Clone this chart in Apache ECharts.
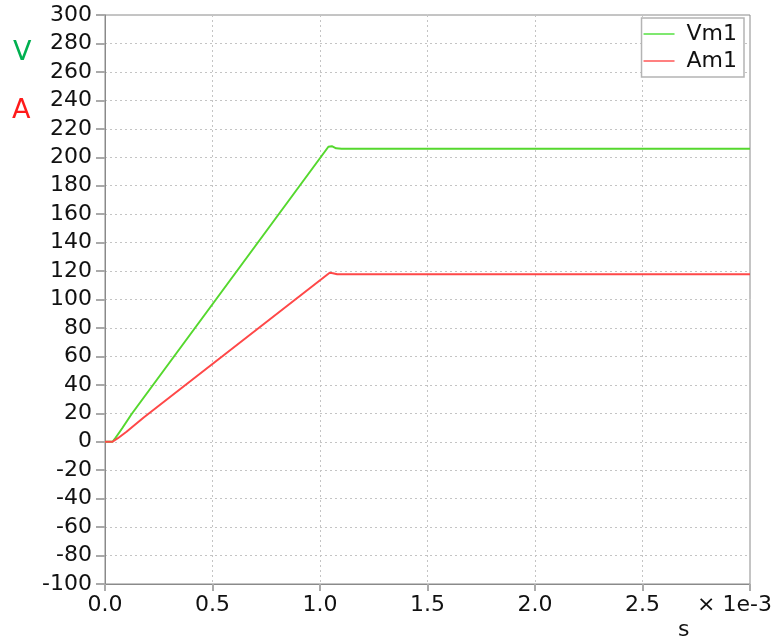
<!DOCTYPE html>
<html><head><meta charset="utf-8">
<script src="https://cdn.jsdelivr.net/npm/echarts@6/dist/echarts.min.js"></script>
<style>html,body{margin:0;padding:0;background:#fff}#c{width:782px;height:636px}</style>
</head><body><div id="c"></div>
<script>
// time in units of 1e-3 s
const vm1 = [[0,0],[0.035,0],[0.05,3],[0.08,9.5],[0.124,19.5],[1.039,207.4],[1.055,207.8],[1.075,206.3],[1.1,205.9],[1.5,206],[2.0,206],[2.5,206],[3.0,206]];
const am1 = [[0,0],[0.035,0],[0.06,2.5],[0.1,7],[0.18,17],[1.045,118.8],[1.06,118.5],[1.08,117.8],[1.5,117.8],[2.0,117.8],[2.5,117.8],[3.0,117.8]];
const xTicks = [0.0,0.5,1.0,1.5,2.0,2.5,3.0];
const yMin = -100, yMax = 300, yStep = 20;

const chart = echarts.init(document.getElementById('c'), null, {renderer:'canvas'});
const font = 'DejaVu Sans, Verdana, sans-serif';
chart.setOption({
  animation:false,
  grid:{left:105,right:32,top:15,bottom:52,show:true,borderColor:'#8a8a8a',borderWidth:1},
  legend:{
    right:38, top:18, orient:'vertical', itemGap:5,
    itemWidth:31, itemHeight:2,
    backgroundColor:'#fff', borderColor:'#b4b4b4', borderWidth:1.5, borderRadius:0,
    padding:[5,7,5,2],
    textStyle:{fontFamily:font,fontSize:22,color:'#111',padding:[0,0,0,7]},
    icon:'rect',
    data:['Vm1','Am1']
  },
  xAxis:{
    type:'value', min:0, max:3, interval:0.5,
    axisLine:{show:true,onZero:false,lineStyle:{color:'#8a8a8a',width:1}},
    axisTick:{show:true,length:7,lineStyle:{color:'#aaaaaa',width:2}},
    axisLabel:{fontFamily:font,fontSize:22,color:'#111',margin:10,
      formatter:v=> (v>=2.99? '' : v.toFixed(1))},
    splitLine:{show:true,lineStyle:{color:'#c4c4c4',type:[2,3],width:1}}
  },
  yAxis:{
    type:'value', min:yMin, max:yMax, interval:yStep,
    axisLine:{show:true,onZero:false,lineStyle:{color:'#8a8a8a',width:1}},
    axisTick:{show:true,length:9,lineStyle:{color:'#aaaaaa',width:2}},
    axisLabel:{fontFamily:font,fontSize:22,color:'#111',margin:13},
    splitLine:{show:true,lineStyle:{color:'#c4c4c4',type:[2,3],width:1}}
  },
  graphic:[
    {type:'text',left:13,top:39,style:{text:'V',fontFamily:font,fontSize:27,fill:'#00b050'}},
    {type:'text',left:12,top:97,style:{text:'A',fontFamily:font,fontSize:27,fill:'#ff1a1a'}},
    {type:'text',left:678,top:619,style:{text:'s',fontFamily:font,fontSize:22,fill:'#111'}},
    {type:'text',left:697,top:594,style:{text:'× 1e-3',fontFamily:font,fontSize:22,fill:'#111'}}
  ],
  series:[
    {name:'Vm1',type:'line',data:vm1,showSymbol:false,symbol:'none',lineStyle:{color:'#55d82e',width:2},itemStyle:{color:'#7fe870'},z:3},
    {name:'Am1',type:'line',data:am1,showSymbol:false,symbol:'none',lineStyle:{color:'#ff4848',width:2},itemStyle:{color:'#ff8080'},z:3}
  ]
});
</script></body></html>
